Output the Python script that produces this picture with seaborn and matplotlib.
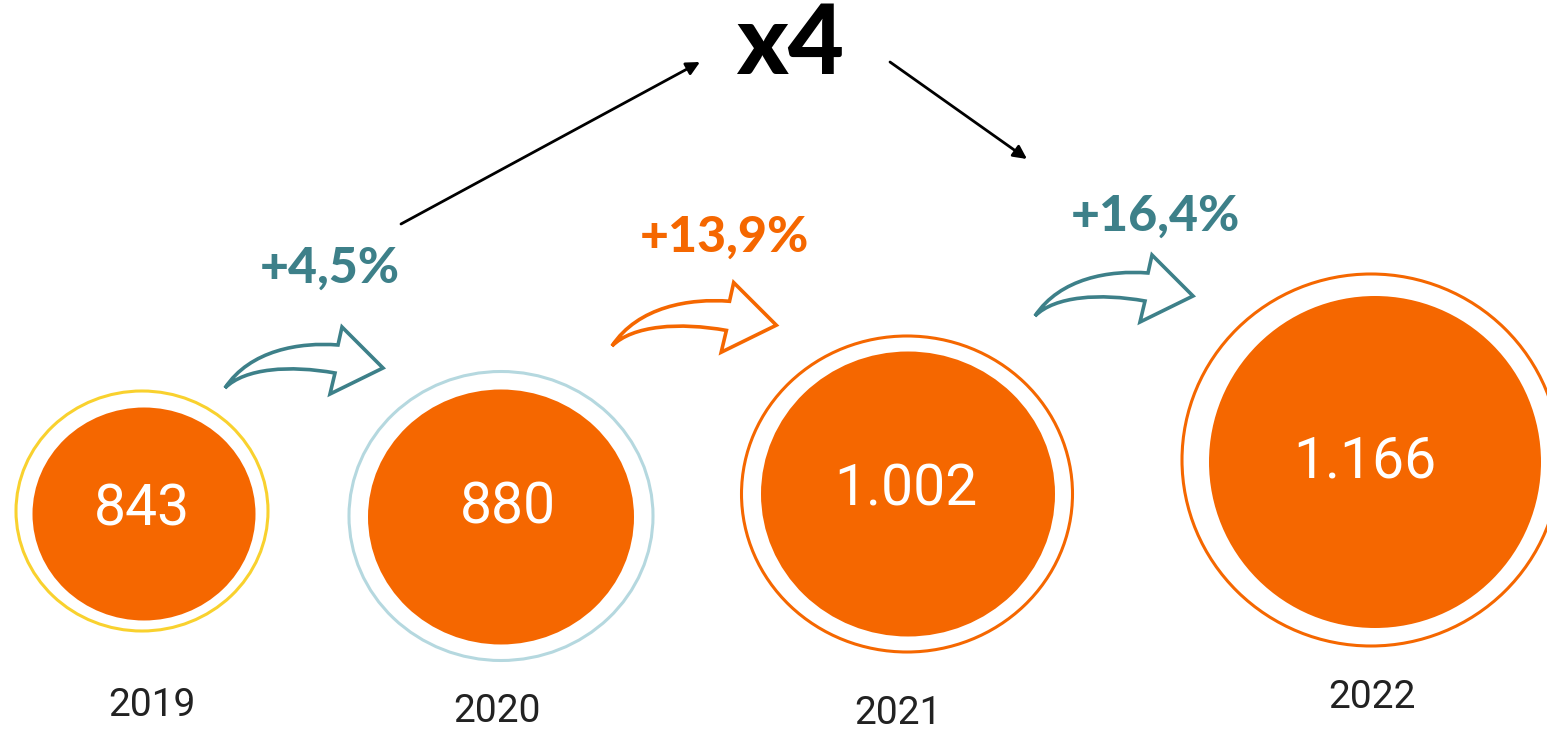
import matplotlib
matplotlib.use("Agg")
import matplotlib.pyplot as plt
import seaborn as sns
import numpy as np
from matplotlib.patches import Ellipse, PathPatch, FancyArrowPatch
from matplotlib.path import Path

# ---- data ----
years = ["2019", "2020", "2021", "2022"]
values = ["843", "880", "1.002", "1.166"]
growth = ["+4,5%", "+13,9%", "+16,4%"]
multiplier = "x4"

# ---- layout (pixel coordinates) ----
ORANGE = "#f56700"
TEAL = "#3d8089"
ring_colors = ["#f9d12e", "#b5d8df", ORANGE, ORANGE]
outer = [(142, 511, 252, 240), (501, 516, 304, 289), (907, 494, 331, 316), (1371, 460, 378, 372)]
inner = [(144, 514, 223, 213), (501, 517, 266, 255), (908, 494, 294, 285), (1375, 462, 332, 332)]
value_pos = [(142, 510), (508, 508), (906, 490), (1365, 462)]
year_pos = [(152, 705), (497, 711), (898, 714), (1372, 697)]
growth_pos = [(330, 268), (724, 237), (1155, 216)]
growth_colors = [TEAL, ORANGE, TEAL]
arrow_tail = [(225, 388), (612, 346), (1035, 316)]
arrow_scale = [1.0, 1.04, 1.0]

sns.set_theme(style="white")
plt.rcParams["font.family"] = ["Roboto", "DejaVu Sans"]

W, H = 1547, 730
fig = plt.figure(figsize=(W / 100, H / 100), dpi=100)
ax = fig.add_axes([0, 0, 1, 1])
ax.set_xlim(0, W)
ax.set_ylim(H, 0)
ax.axis("off")

for (cx, cy, w, h), col in zip(outer, ring_colors):
    ax.add_patch(Ellipse((cx, cy), w, h, facecolor="none", edgecolor=col, lw=2.2))
for (cx, cy, w, h) in inner:
    ax.add_patch(Ellipse((cx, cy), w, h, facecolor=ORANGE, edgecolor="none"))

for (x, y), v in zip(value_pos, values):
    ax.text(x, y, v, color="white", fontsize=41, fontweight="normal",
            ha="center", va="center")
for (x, y), yr in zip(year_pos, years):
    ax.text(x, y, yr, color="#222222", fontsize=28, fontweight="normal",
            ha="center", va="center")
for (x, y), g, c in zip(growth_pos, growth, growth_colors):
    ax.text(x, y, g, color=c, fontsize=36, fontweight="black",
            ha="center", va="center", family=["Lato", "DejaVu Sans"])

ax.text(790, 45, multiplier, color="black", fontsize=70, fontweight="black",
        ha="center", va="center", family=["Lato", "DejaVu Sans"])

# black connector arrows
for p0, p1 in [((401, 224), (700, 62)), ((890, 62), (1027, 159))]:
    ax.add_patch(FancyArrowPatch(p0, p1, arrowstyle="-|>", mutation_scale=20,
                                 shrinkA=0, shrinkB=0, color="black", lw=2))

# curved hollow arrows (template relative to tail)
verts_t = [(0, 0), (25, -38), (75, -46), (113, -43),
           (117, -61), (158, -20), (105, 6), (110, -15),
           (65, -23), (20, -20), (0, 0)]
codes_t = [Path.MOVETO, Path.CURVE4, Path.CURVE4, Path.CURVE4,
           Path.LINETO, Path.LINETO, Path.LINETO, Path.LINETO,
           Path.CURVE4, Path.CURVE4, Path.CURVE4]
for (tx, ty), s, c in zip(arrow_tail, arrow_scale, growth_colors):
    vs = [(tx + s * vx, ty + s * vy) for vx, vy in verts_t]
    ax.add_patch(PathPatch(Path(vs, codes_t), facecolor="none", edgecolor=c,
                           lw=2.6, joinstyle="miter"))

fig.savefig("out.png", dpi=100)
